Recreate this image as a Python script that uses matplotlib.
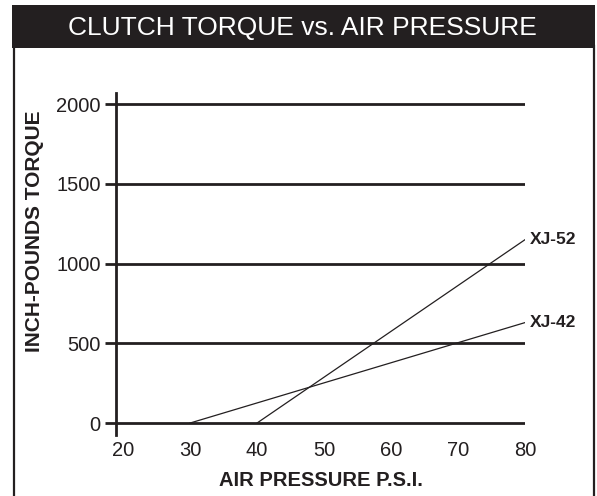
import matplotlib
matplotlib.use("Agg")
import matplotlib.pyplot as plt
from matplotlib.lines import Line2D
from matplotlib.patches import Rectangle

plt.rcParams['font.family'] = ['Liberation Sans', 'DejaVu Sans']

title = "CLUTCH TORQUE vs. AIR PRESSURE"
x_label = "AIR PRESSURE P.S.I."
y_label = "INCH-POUNDS TORQUE"
x_ticks = [20, 30, 40, 50, 60, 70, 80]
y_ticks = [0, 500, 1000, 1500, 2000]

series_names = ["XJ-52", "XJ-42"]
xj52_x = [40, 80]
xj52_y = [0, 1150]
xj42_x = [30, 80]
xj42_y = [0, 630]

W, H = 597, 496
fig = plt.figure(figsize=(W / 100, H / 100), dpi=100)
fig.patch.set_facecolor('white')

# header bar
fig.add_artist(Rectangle((12 / W, 1 - 48 / H), (595 - 12) / W, 43 / H,
                         transform=fig.transFigure, facecolor='#231f20',
                         edgecolor='none'))
fig.text(302 / W, 1 - 27.5 / H, title, color='white', fontsize=19,
         ha='center', va='center')
# frame sides
for xp in (13.5, 593.5):
    fig.add_artist(Line2D([xp / W, xp / W], [0, 1 - 46 / H],
                          transform=fig.transFigure, color='#231f20', lw=1.6))

ax = fig.add_axes([116 / W, 1 - 435 / H, (525 - 116) / W, (435 - 93) / H])
ax.set_xlim(18.95, 80)
ax.set_ylim(-75, 2070)

for yv in y_ticks:
    ax.axhline(yv, color='#231f20', lw=2.0, zorder=1)

ax.plot(xj52_x, xj52_y, color='#231f20', lw=0.9, zorder=2)
ax.plot(xj42_x, xj42_y, color='#231f20', lw=0.9, zorder=2)
ax.text(80.7, xj52_y[1], series_names[0], fontsize=12.5, fontweight='bold',
        ha='left', va='center', color='#231f20')
ax.text(80.7, xj42_y[1], series_names[1], fontsize=12.5, fontweight='bold',
        ha='left', va='center', color='#231f20')

for s in ['top', 'right', 'bottom']:
    ax.spines[s].set_visible(False)
ax.spines['left'].set_linewidth(2.0)
ax.spines['left'].set_color('#231f20')

ax.set_yticks(y_ticks)
ax.set_yticklabels([str(v) for v in y_ticks])
ax.set_xticks(x_ticks)
ax.set_xticklabels([str(v) for v in x_ticks])
ax.tick_params(axis='y', direction='out', length=8, width=2.0, color='#231f20',
               labelsize=14.5, labelcolor='#231f20', pad=3)
ax.tick_params(axis='x', length=0, labelsize=14.5, labelcolor='#231f20', pad=4.5)

ax.set_xlabel(x_label, fontsize=14.5, fontweight='bold', color='#231f20',
              labelpad=8)
fig.text(35 / W, 1 - 231 / H, y_label, fontsize=15, fontweight='bold',
         rotation=90, ha='center', va='center', color='#231f20')

fig.savefig('out.png', dpi=100)
